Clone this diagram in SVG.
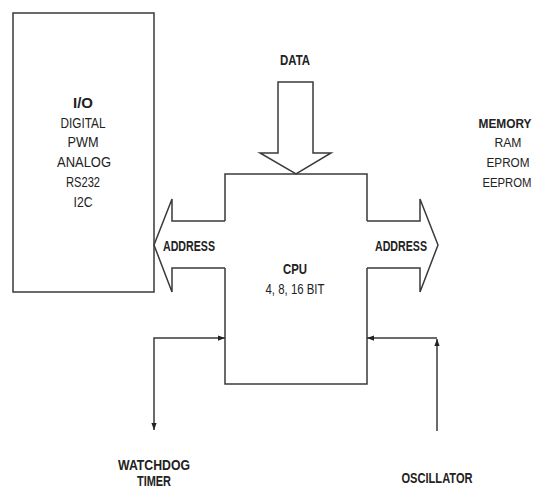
<svg xmlns="http://www.w3.org/2000/svg" width="534" height="490" viewBox="0 0 534 490">
<defs>
<style>
.ln{fill:none;stroke:#3a3a3a;stroke-width:1.5;stroke-linejoin:miter}
.t{font-family:"Liberation Sans",Arial,sans-serif;font-size:15px;fill:#222;text-anchor:middle}
.b{font-weight:bold}
.m{font-family:"Liberation Sans",Arial,sans-serif;font-size:12px;fill:#222;text-anchor:middle}
</style>
<marker id="ah" viewBox="0 0 8 6" refX="8" refY="3" markerWidth="7" markerHeight="6" markerUnits="userSpaceOnUse" orient="auto-start-reverse">
<path d="M0,0 L8,3 L0,6 Z" fill="#222"/>
</marker>
</defs>
<rect width="534" height="490" fill="#fff"/>
<g id="io">
<rect class="ln" x="13" y="13" width="141" height="279"/>
<text class="t b" x="83" y="108" textLength="20" lengthAdjust="spacingAndGlyphs">I/O</text>
<text class="t" x="83" y="128" textLength="45" lengthAdjust="spacingAndGlyphs">DIGITAL</text>
<text class="t" x="83" y="147" textLength="31" lengthAdjust="spacingAndGlyphs">PWM</text>
<text class="t" x="84" y="167" textLength="54" lengthAdjust="spacingAndGlyphs">ANALOG</text>
<text class="t" x="83" y="187" textLength="34" lengthAdjust="spacingAndGlyphs">RS232</text>
<text class="t" x="83" y="207" textLength="19" lengthAdjust="spacingAndGlyphs">I2C</text>
</g>
<g id="cpu">
<path class="ln" d="M225,221 V174 H367 V221 M367,268 V384 H225 V268"/>
<text class="t b" x="295" y="274" textLength="24" lengthAdjust="spacingAndGlyphs">CPU</text>
<text class="t" x="295" y="294" textLength="59" lengthAdjust="spacingAndGlyphs">4, 8, 16 BIT</text>
</g>
<g id="data">
<text class="t b" x="295" y="65" textLength="30" lengthAdjust="spacingAndGlyphs">DATA</text>
</g>
<g id="memory">
<text class="m b" x="505" y="128" textLength="53" lengthAdjust="spacingAndGlyphs">MEMORY</text>
<text class="m" x="508" y="147" textLength="27" lengthAdjust="spacingAndGlyphs">RAM</text>
<text class="m" x="508" y="167" textLength="43" lengthAdjust="spacingAndGlyphs">EPROM</text>
<text class="m" x="507" y="187" textLength="49" lengthAdjust="spacingAndGlyphs">EEPROM</text>
</g>
<g id="watchdog">
<text class="t b" x="154" y="470" font-size="14" textLength="72" lengthAdjust="spacingAndGlyphs">WATCHDOG</text>
<text class="t b" x="154" y="486" font-size="13" textLength="34" lengthAdjust="spacingAndGlyphs">TIMER</text>
</g>
<g id="oscillator">
<text class="t b" x="437" y="483" textLength="71" lengthAdjust="spacingAndGlyphs">OSCILLATOR</text>
</g>
<g id="connectors">
<path class="ln" d="M260,153 H278 V82 H313 V153 H331 L296,174 Z"/>
<path class="ln" d="M225,221 H172 V199 L154,245 L172,292 V268 H225"/>
<text class="t b" x="189" y="251" textLength="52" lengthAdjust="spacingAndGlyphs">ADDRESS</text>
<path class="ln" d="M367,221 H420 V199 L438,245 L420,292 V268 H367"/>
<text class="t b" x="401" y="251" textLength="52" lengthAdjust="spacingAndGlyphs">ADDRESS</text>
<path class="ln" d="M154,430 V338 H225" marker-start="url(#ah)" marker-end="url(#ah)"/>
<path class="ln" d="M437,431 V339" marker-end="url(#ah)"/>
<path class="ln" d="M437,338 H367" marker-end="url(#ah)"/>
</g>
</svg>
